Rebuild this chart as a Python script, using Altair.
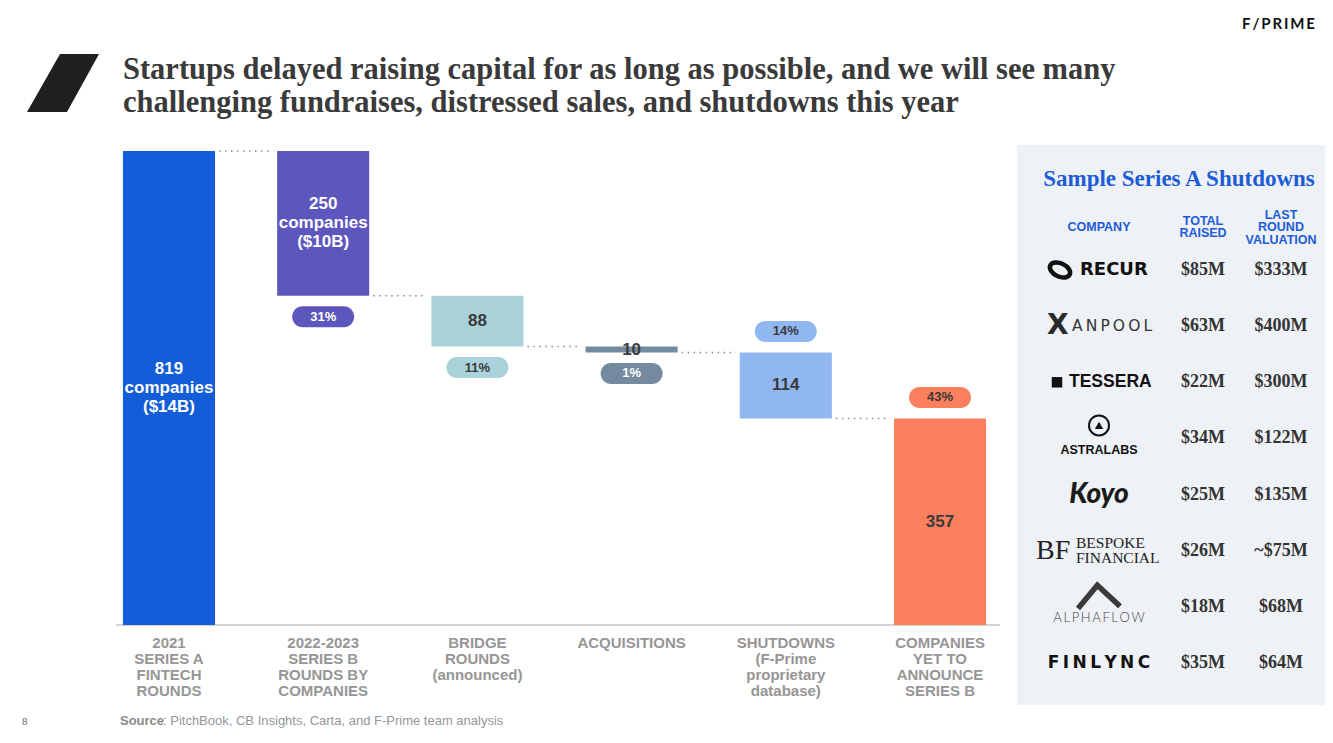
import altair as alt
import pandas as pd

# ---------------- data ----------------
stages = ["2021 Series A", "2022-2023 Series B", "Bridge rounds",
          "Acquisitions", "Shutdowns", "Yet to announce"]
stage_axis_labels = ["2021|SERIES A|FINTECH|ROUNDS",
                     "2022-2023|SERIES B|ROUNDS BY|COMPANIES",
                     "BRIDGE|ROUNDS|(announced)",
                     "ACQUISITIONS",
                     "SHUTDOWNS|(F-Prime|proprietary|database)",
                     "COMPANIES|YET TO|ANNOUNCE|SERIES B"]
company_counts = [819, 250, 88, 10, 114, 357]
step_kind = ["total", "decrease", "decrease", "decrease", "decrease", "total"]
bar_texts = ["819|companies|($14B)", "250|companies|($10B)", "88", "10", "114", "357"]
share_texts = ["", "31%", "11%", "1%", "14%", "43%"]
share_side = ["none", "below", "below", "below", "above", "above"]

companies = ["RECUR", "XANPOOL", "TESSERA", "ASTRALABS", "Koyo",
             "BESPOKE FINANCIAL", "ALPHAFLOW", "FINLYNC"]
total_raised = ["$85M", "$63M", "$22M", "$34M", "$25M", "$26M", "$18M", "$35M"]
last_valuation = ["$333M", "$400M", "$300M", "$122M", "$135M", "~$75M", "$68M", "$64M"]

# ---------------- styles ----------------
bar_colors = ["#135dd9", "#5c56bd", "#a9d2db", "#748b9f", "#90b7ef", "#fb805d"]
label_colors = ["#ffffff", "#ffffff", "#3a3a3a", "#3a3a3a", "#3a3a3a", "#3a3a3a"]
pill_text_colors = ["#ffffff", "#ffffff", "#3a3a3a", "#ffffff", "#3a3a3a", "#3a3a3a"]
SANS = "Liberation Sans"
SERIF = "Liberation Serif"
DARK = "#3a3a3a"
GREY = "#969696"
BLUE = "#1d5cd6"

# ---------------- waterfall table ----------------
tops, bottoms = [], []
running = 0
for v, k in zip(company_counts, step_kind):
    if k == "total":
        top, bottom = v, 0
        running = v
    else:
        top, bottom = running, running - v
        running -= v
    tops.append(top)
    bottoms.append(bottom)

df = pd.DataFrame({
    "stage": stages,
    "axis_label": stage_axis_labels,
    "top": tops,
    "bottom": bottoms,
    "bar_text": bar_texts,
    "share": share_texts,
    "side": share_side,
})
df["mid"] = (df["top"] + df["bottom"]) / 2
df["edge"] = [b if s == "below" else t for t, b, s in zip(tops, bottoms, share_side)]

levels = [t if k == "total" else b for t, b, k in zip(tops, bottoms, step_kind)]
conn = pd.DataFrame({
    "stage": stages[:-1],
    "next": stages[1:],
    "level": levels[:-1],
})

panel = pd.DataFrame({"company": companies, "raised": total_raised,
                      "valuation": last_valuation})
one = pd.DataFrame({"v": [0]})

# ---------------- scales ----------------
xscale = alt.Scale(type="band", domain=stages, range=[108, 985],
                   paddingInner=0.403, paddingOuter=0.045)
yscale = alt.Scale(domain=[0, 819], range=[617, 143], nice=False, zero=True)
rowscale = alt.Scale(type="point", domain=companies, range=[262, 655], padding=0)


def X(**kw):
    return alt.X("stage:N", scale=xscale, axis=None, **kw)


def Y(f):
    return alt.Y(f, scale=yscale, axis=None)


def colr(rng):
    return alt.Color("stage:N", scale=alt.Scale(domain=stages, range=rng), legend=None)


ROW = alt.Y("company:N", scale=rowscale, axis=None)

layers = []

# axis baseline
layers.append(alt.Chart(one).mark_rule(color="#d3d3d3", strokeWidth=2).encode(
    x=alt.value(108), x2=alt.value(992), y=Y("v:Q")))

# connectors
layers.append(alt.Chart(conn).mark_rule(color="#8a8a8a", strokeWidth=1.5,
                                        strokeDash=[1.5, 4.5], xOffset=4, x2Offset=-4).encode(
    x=X(bandPosition=1), x2=alt.X2("next:N", bandPosition=0), y=Y("level:Q")))

# bars
layers.append(alt.Chart(df).mark_bar().encode(
    x=X(), y=Y("top:Q"), y2="bottom:Q", color=colr(bar_colors)))

# bar labels (multi-line blocks are centred by shifting them up)
BAR_LH = 19
lab = alt.Chart(df).transform_calculate(
    lines="split(datum.bar_text, '|')", n="length(split(datum.bar_text, '|'))")
for n in (1, 3):
    layers.append(lab.transform_filter(alt.datum.n == n).mark_text(
        font=SANS, fontSize=17, fontWeight="bold", lineHeight=BAR_LH, baseline="middle",
        yOffset=-(n - 1) * BAR_LH / 2).encode(
        x=X(), y=Y("mid:Q"), text="lines:N", color=colr(label_colors)))

# share pills
for side, off in (("below", 1), ("above", -1)):
    sub = alt.Chart(df).transform_filter(alt.datum.side == side)
    layers.append(sub.mark_bar(width=62, cornerRadius=10.5,
                               yOffset=off * 10.5, y2Offset=off * 31.5).encode(
        x=X(), y=Y("edge:Q"), y2="edge:Q", color=colr(bar_colors)))
    layers.append(sub.mark_text(font=SANS, fontSize=13, fontWeight="bold",
                                baseline="middle", yOffset=off * 21).encode(
        x=X(), y=Y("edge:Q"), text="share:N", color=colr(pill_text_colors)))

# category labels under the axis
layers.append(alt.Chart(df).transform_calculate(lines="split(datum.axis_label, '|')").mark_text(
    font=SANS, fontSize=15, fontWeight="bold", lineHeight=16, color=GREY,
    baseline="alphabetic").encode(x=X(), y=alt.value(640), text="lines:N"))


def note(text, x, y, **style):
    return alt.Chart(one).mark_text(text=text, **style).encode(x=alt.value(x), y=alt.value(y))


# title and page furniture
layers.append(alt.Chart(one).mark_point(
    shape="M -0.112 -1 L 1.233 -1 L 0.129 1 L -1.25 1 Z", filled=True, size=3364,
    color="#1f1f1f", opacity=1, strokeWidth=0).encode(x=alt.value(55.25), y=alt.value(75)))
layers.append(note(["Startups delayed raising capital for as long as possible, and we will see many",
                    "challenging fundraises, distressed sales, and shutdowns this year"],
                   115, 71, font=SERIF, fontSize=30.5, fontWeight="bold", color=DARK,
                   align="left", baseline="alphabetic", lineHeight=33))
layers.append(note("F\u2009/\u2009P\u2009R\u2009I\u2009M\u2009E", 1307, 16, font="Lato",
                   fontSize=15, fontWeight="bold", color="#111111", align="right",
                   baseline="middle"))
layers.append(note("Source", 112, 713, font=SANS, fontSize=13, fontWeight="bold",
                   color="#8a8a8a", align="left", baseline="middle"))
layers.append(note(": PitchBook, CB Insights, Carta, and F-Prime team analysis", 155, 713,
                   font=SANS, fontSize=13, color=GREY, align="left", baseline="middle"))
layers.append(note("8", 14, 714, font=SERIF, fontSize=11, color="#666666",
                   align="left", baseline="middle"))

# side panel
layers.append(alt.Chart(one).mark_rect(color="#eef1f5").encode(
    x=alt.value(1009), x2=alt.value(1317), y=alt.value(137), y2=alt.value(697)))
layers.append(note("Sample Series A Shutdowns", 1171, 178, font=SERIF, fontSize=23,
                   fontWeight="bold", color=BLUE, align="center", baseline="alphabetic"))
HEAD_LH = 12.5
for txt, x in ((["COMPANY"], 1091), (["TOTAL", "RAISED"], 1195),
               (["LAST", "ROUND", "VALUATION"], 1273)):
    layers.append(note(txt, x, 219 - (len(txt) - 1) * HEAD_LH / 2, font=SANS, fontSize=12.5,
                       fontWeight="bold", color=BLUE, align="center", baseline="middle",
                       lineHeight=HEAD_LH))

pbase = alt.Chart(panel)
layers.append(pbase.mark_text(font=SERIF, fontSize=18, fontWeight="bold", color="#333333",
                              baseline="middle").encode(
    x=alt.value(1195), y=ROW, text="raised:N"))
layers.append(pbase.mark_text(font=SERIF, fontSize=18, fontWeight="bold", color="#333333",
                              baseline="middle").encode(
    x=alt.value(1273), y=ROW, text="valuation:N"))


def logo_text(name, text, x, **style):
    style.setdefault("baseline", "middle")
    return (alt.Chart(panel).transform_filter(alt.datum.company == name)
            .mark_text(text=text, **style).encode(x=alt.value(x), y=ROW))


def logo_point(name, x, **style):
    return (alt.Chart(panel).transform_filter(alt.datum.company == name)
            .mark_point(**style).encode(x=alt.value(x), y=ROW))


# RECUR
layers.append(logo_point("RECUR", 1052, shape="M -1 0 A 1 0.62 0 1 0 1 0 A 1 0.62 0 1 0 -1 0",
                         size=460, filled=False, stroke="#111111", strokeWidth=4.5,
                         angle=25, opacity=1))
layers.append(logo_text("RECUR", "RECUR", 1072, font="DejaVu Sans", fontSize=18,
                        fontWeight="bold", color="#111111", align="left"))
# XANPOOL
layers.append(logo_text("XANPOOL", "X", 1039, font="DejaVu Sans", fontSize=28,
                        fontWeight="bold", color="#2a2a2a", align="left"))
layers.append(logo_text("XANPOOL", "A\u2009N\u2009P\u2009O\u2009O\u2009L", 1064,
                        font="DejaVu Sans", fontSize=15.5, color="#333333", align="left"))
# TESSERA
layers.append(logo_point("TESSERA", 1049, shape="square", size=110, filled=True,
                         color="#111111", opacity=1))
layers.append(logo_text("TESSERA", "TESSERA", 1061, font=SANS, fontSize=17.5,
                        fontWeight="bold", color="#111111", align="left"))
# ASTRALABS
layers.append(logo_point("ASTRALABS", 1091, shape="circle", size=400, filled=False,
                         stroke="#111111", strokeWidth=2, opacity=1, yOffset=-13))
layers.append(logo_point("ASTRALABS", 1091, shape="triangle-up", size=70, filled=True,
                         color="#111111", opacity=1, yOffset=-13))
layers.append(logo_text("ASTRALABS", "ASTRALABS", 1091, font=SANS, fontSize=12.5,
                        fontWeight="bold", color="#111111", align="center", yOffset=12))
# Koyo
layers.append(logo_text("Koyo", "Koyo", 1091, font="Lato", fontSize=28, fontWeight=900,
                        fontStyle="italic", color="#1a1a1a", align="center"))
# BESPOKE FINANCIAL
layers.append(logo_text("BESPOKE FINANCIAL", "BF", 1028, font=SERIF, fontSize=28,
                        color="#222222", align="left"))
layers.append(logo_text("BESPOKE FINANCIAL", ["BESPOKE", "FINANCIAL"], 1068, font=SERIF,
                        fontSize=15.5, lineHeight=15, color="#222222", align="left",
                        yOffset=-7.5))
# ALPHAFLOW
layers.append(logo_point("ALPHAFLOW", 1091, shape="M -1 0.55 L -0.08 -0.55 L 1 0.45",
                         size=1764, filled=False, stroke="#3a3a3a", strokeWidth=5.5,
                         opacity=1, yOffset=-10))
layers.append(logo_text("ALPHAFLOW", "A\u2009L\u2009P\u2009H\u2009A\u2009F\u2009L\u2009O\u2009W",
                        1091, font="Lato", fontSize=13, fontWeight=300, color="#444444",
                        align="center", yOffset=11))
# FINLYNC
layers.append(logo_text("FINLYNC", "F\u2009I\u2009N\u2009L\u2009Y\u2009N\u2009C", 1091,
                        font="DejaVu Sans", fontSize=17, fontWeight="bold", color="#111111",
                        align="center"))

chart = alt.layer(*layers).resolve_scale(
    x="independent", y="independent", color="independent"
).properties(
    width=1317, height=720, padding=0, autosize="none", background="#ffffff"
).configure_view(stroke=None)

chart.save("out.html", embed_options={"renderer": "svg", "actions": False})
